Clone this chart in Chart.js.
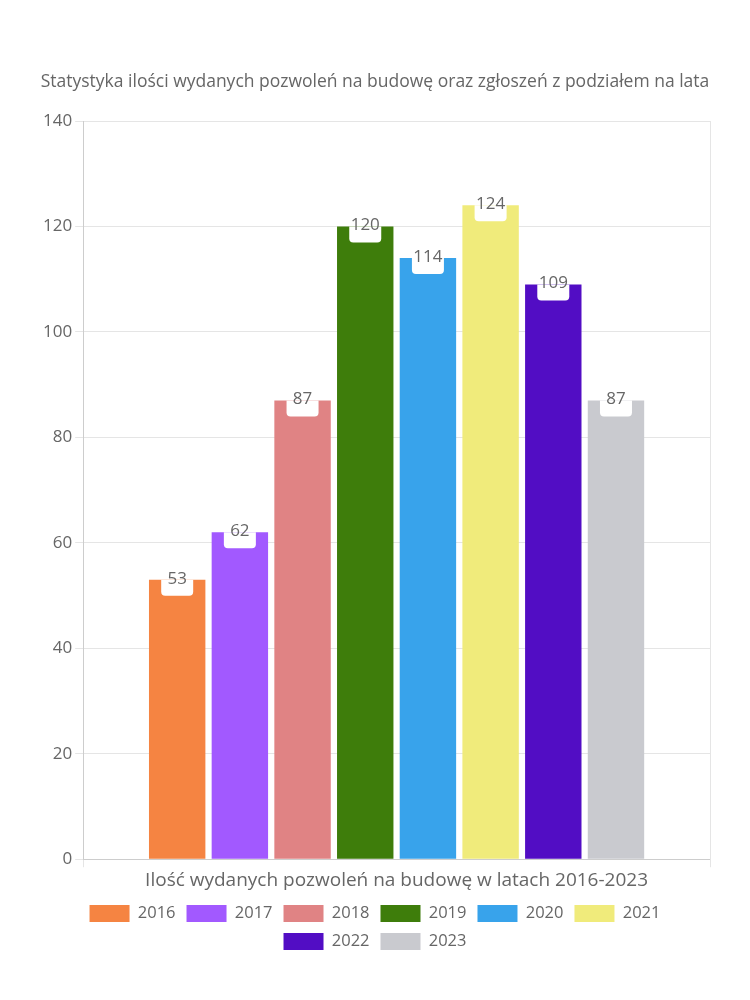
<!DOCTYPE html>
<html>
<head>
<meta charset="utf-8">
<script src="https://cdn.jsdelivr.net/npm/chart.js@4"></script>
<style>
  body { margin: 0; background: #fff; }
  .chart-box { width: 750px; height: 1000px; }
</style>
</head>
<body>
<div class="chart-box"><canvas id="myChart"></canvas></div>
<script>
const years = ['2016', '2017', '2018', '2019', '2020', '2021', '2022', '2023'];
const permits = [53, 62, 87, 120, 114, 124, 109, 87];
const colors = ['#f58442', '#a259ff', '#e08384', '#3e7d0b', '#38a3eb', '#f0eb7b', '#520dc4', '#c9cacf'];
const category = ['Ilość wydanych pozwoleń na budowę w latach 2016-2023'];
const chartTitle = 'Statystyka ilości wydanych pozwoleń na budowę oraz zgłoszeń z podziałem na lata';

const FONT = "'Open Sans', sans-serif";
Chart.defaults.font.family = FONT;
Chart.defaults.font.size = 16;
Chart.defaults.color = '#666';

// white tab with the value at the top of each bar
const valueTabs = {
  id: 'valueTabs',
  afterDatasetsDraw(chart) {
    const ctx = chart.ctx;
    chart.data.datasets.forEach((ds, i) => {
      const meta = chart.getDatasetMeta(i);
      if (meta.hidden) return;
      meta.data.forEach((bar, j) => {
        const w = 32, h = 16, r = 4;
        const x = bar.x - w / 2, y = bar.y;
        ctx.save();
        ctx.fillStyle = '#fff';
        ctx.beginPath();
        ctx.moveTo(x, y);
        ctx.lineTo(x + w, y);
        ctx.lineTo(x + w, y + h - r);
        ctx.quadraticCurveTo(x + w, y + h, x + w - r, y + h);
        ctx.lineTo(x + r, y + h);
        ctx.quadraticCurveTo(x, y + h, x, y + h - r);
        ctx.closePath();
        ctx.fill();
        ctx.fillStyle = '#666';
        ctx.font = '17px ' + FONT;
        ctx.textAlign = 'center';
        ctx.textBaseline = 'middle';
        ctx.fillText(ds.data[j], bar.x, y - 1);
        ctx.restore();
      });
    });
  }
};

new Chart(document.getElementById('myChart').getContext('2d'), {
  type: 'bar',
  data: {
    labels: category,
    datasets: years.map((y, i) => ({
      label: y,
      data: [permits[i]],
      backgroundColor: colors[i],
      borderWidth: 0,
    })),
  },
  options: {
    responsive: true,
    maintainAspectRatio: false,
    animation: false,
    layout: { padding: { top: 72, right: 40, bottom: 40, left: 40 } },
    plugins: {
      title: {
        display: true,
        text: chartTitle,
        color: '#666',
        font: { size: 17.5, weight: 'normal' },
        padding: { top: 0, bottom: 28 },
      },
      legend: {
        position: 'bottom',
        labels: { boxWidth: 40, boxHeight: 17, padding: 11, font: { size: 16.5 } },
      },
      tooltip: { enabled: false },
    },
    scales: {
      x: {
        grid: { color: '#e5e5e5' },
        ticks: { color: '#666', font: { size: 19 }, padding: 2 },
      },
      y: {
        min: 0,
        max: 140,
        ticks: { stepSize: 20, color: '#666', font: { size: 17 } },
        grid: { color: '#e5e5e5' },
      },
    },
  },
  plugins: [valueTabs],
});
</script>
</body>
</html>
